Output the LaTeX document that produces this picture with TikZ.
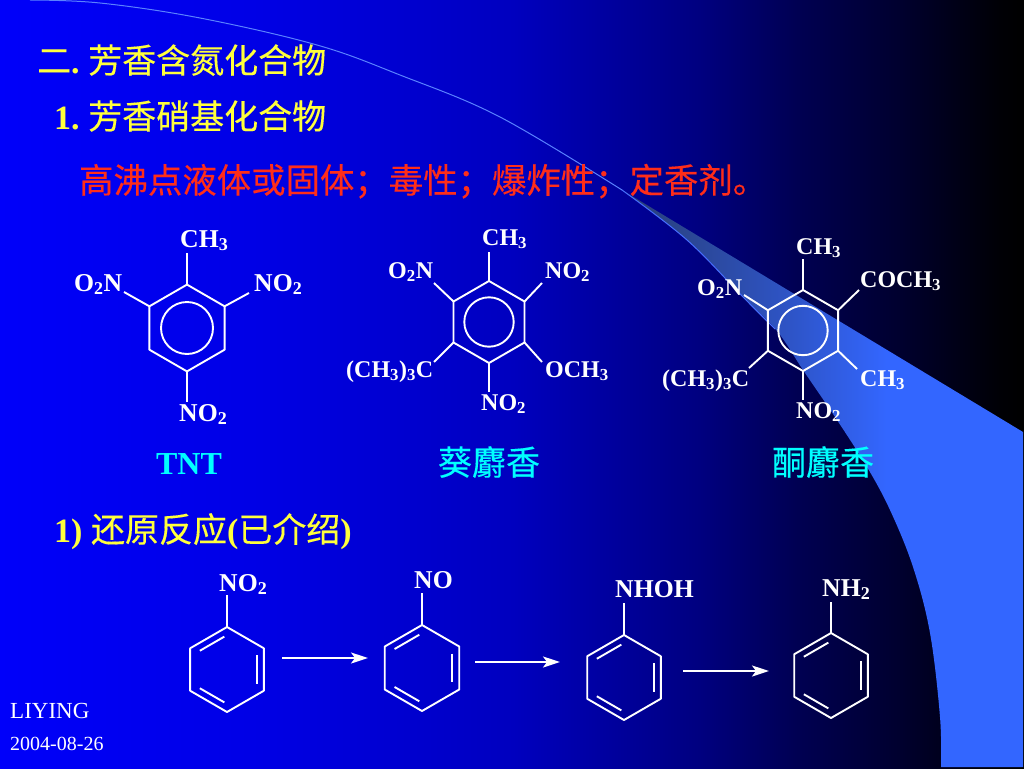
\documentclass[tikz,border=0pt]{standalone}
\usepackage{fontspec}
\setmainfont{Liberation Serif}
\newfontfamily\cjk[FakeBold=0.25]{Noto Sans CJK SC}
\usetikzlibrary{arrows.meta,calc}
\definecolor{hdr}{RGB}{255,255,60}
\definecolor{redt}{RGB}{255,45,25}
\definecolor{cyant}{RGB}{0,255,255}
\definecolor{edgeA}{RGB}{90,130,255}
\definecolor{edgeB}{RGB}{70,110,255}
\pgfdeclarehorizontalshading{slidebg}{100bp}{
 rgb(0bp)=(0,0,.98); rgb(25bp)=(0,0,.98); rgb(37.5bp)=(0,0,.9); rgb(50bp)=(0,0,.75);
 rgb(59.2bp)=(0,0,.5); rgb(64bp)=(0,0,.32); rgb(69bp)=(0,0,.18); rgb(73.8bp)=(0,0,.02); rgb(75bp)=(0,0,0); rgb(100bp)=(0,0,0)}
\pgfdeclarehorizontalshading{swoosh}{100bp}{
 rgb(0bp)=(.16,.24,.45); rgb(25bp)=(.16,.24,.45); rgb(46bp)=(.18,.33,.78);
 rgb(58bp)=(.2,.4,1); rgb(100bp)=(.2,.4,1)}
\tikzset{x=1pt,y=-1pt,
 bond/.style={draw=white,line width=1.9pt,line join=round},
 atom/.style={text=white,font=\bfseries\fontsize{25.7}{28}\selectfont,inner sep=0pt,anchor=base west},
 atoms/.style={text=white,font=\bfseries\fontsize{24}{28}\selectfont,inner sep=0pt,anchor=base west},
 head/.style={font=\cjk\fontsize{34}{38}\selectfont,inner sep=0pt,anchor=base west},
 rxn/.style={draw=white,line width=1.9pt,-{Stealth[length=17pt,width=11pt,inset=4pt]}},
 foot/.style={text=white,inner sep=0pt,anchor=base west}}
\newcommand{\ringpts}[4]{% name, cx, cy, R
 \coordinate (#1t) at (#2,#3-#4);
 \coordinate (#1tr) at (#2+.866*#4,#3-.5*#4);
 \coordinate (#1br) at (#2+.866*#4,#3+.5*#4);
 \coordinate (#1b) at (#2,#3+#4);
 \coordinate (#1bl) at (#2-.866*#4,#3+.5*#4);
 \coordinate (#1tl) at (#2-.866*#4,#3-.5*#4);
 \coordinate (#1c) at (#2,#3);
 \draw[bond] (#1t)--(#1tr)--(#1br)--(#1b)--(#1bl)--(#1tl)--cycle;}
\newcommand{\kek}[1]{%
 \foreach \p/\q in {tl/t,tr/br,b/bl}{
  \draw[bond] ($($(#1\p)!.09!(#1\q)$)!.19!(#1c)$) -- ($($(#1\q)!.09!(#1\p)$)!.19!(#1c)$);}}
\newcommand{\sbond}[4]{% ring vertex, end name, x, y
 \coordinate (#2) at (#3,#4);
 \draw[bond] (#1) -- (#2);}
\begin{document}
\begin{tikzpicture}
\useasboundingbox (0,0) rectangle (1024,768);
\shade[shading=slidebg] (0,0) rectangle (1024,768);
% swoosh
\shade[shading=swoosh] (622,190) -- (1023,432) -- (1023,767) --
  plot[smooth,tension=.6] coordinates {(941,767) (940,717) (930,633) (913,567) (890,510) (867,467) (837,420) (803,370) (777,331) (743,297) (687,240) (622,190)} -- cycle;
\draw[edgeA,line width=1pt] plot[smooth,tension=.6] coordinates {(30,0) (100,3) (200,18) (317,45) (400,75) (500,117) (622,190)};
\draw[edgeB,line width=1pt] plot[smooth,tension=.6] coordinates {(622,190) (687,240) (743,297) (775,329)};
% headings
\node[head,text=hdr] (h1) at (37,73) {二{\rmfamily\bfseries .\ }芳香含氮化合物};
\node[head,text=hdr] (h2) at (54,129) {{\rmfamily\bfseries 1.\ }芳香硝基化合物};
\node[head,text=redt,font=\cjk\fontsize{34.4}{38}\selectfont] (h3) at (79,193) {高沸点液体或固体；毒性；爆炸性；定香剂。};
% TNT
\ringpts{a}{187}{328}{43.4}
\draw[bond] (ac) circle (26);
\node[atom] (a1) at (180,247) {CH\textsubscript{3}};
\node[atom] (a2) at (74,291) {O\textsubscript{2}N};
\node[atom] (a3) at (254,291) {NO\textsubscript{2}};
\node[atom] (a4) at (179,421) {NO\textsubscript{2}};
\sbond{at}{ae1}{187}{253}
\sbond{atl}{ae2}{124}{292}
\sbond{atr}{ae3}{249}{293}
\sbond{ab}{ae4}{187}{402}
\node[text=cyant,font=\bfseries\fontsize{32}{36}\selectfont,anchor=base,inner sep=0pt] (a5) at (189,474) {TNT};
% musk 2
\ringpts{b}{489}{322}{41}
\draw[bond] (bc) circle (24.7);
\node[atoms] (b1) at (482,245) {CH\textsubscript{3}};
\node[atoms] (b2) at (388,278) {O\textsubscript{2}N};
\node[atoms] (b3) at (545,278) {NO\textsubscript{2}};
\node[atoms] (b4) at (346,377) {(CH\textsubscript{3})\textsubscript{3}C};
\node[atoms] (b5) at (545,377) {OCH\textsubscript{3}};
\node[atoms] (b6) at (481,410) {NO\textsubscript{2}};
\sbond{bt}{be1}{489}{252}
\sbond{btl}{be2}{434}{283}
\sbond{btr}{be3}{542}{283}
\sbond{bbl}{be4}{434}{362}
\sbond{bbr}{be5}{542}{362}
\sbond{bb}{be6}{489}{392}
\node[head,text=cyant,anchor=base] (b7) at (489,475) {葵麝香};
% musk 3
\ringpts{c}{803}{330.5}{40.5}
\draw[bond] (cc) circle (24.7);
\node[atoms] (c1) at (796,254) {CH\textsubscript{3}};
\node[atoms] (c2) at (697,295) {O\textsubscript{2}N};
\node[atoms] (c3) at (860,287) {COCH\textsubscript{3}};
\node[atoms] (c4) at (662,386) {(CH\textsubscript{3})\textsubscript{3}C};
\node[atoms] (c5) at (860,386) {CH\textsubscript{3}};
\node[atoms] (c6) at (796,418) {NO\textsubscript{2}};
\sbond{ct}{ce1}{803}{259}
\sbond{ctl}{ce2}{744}{295}
\sbond{ctr}{ce3}{859}{290}
\sbond{cbl}{ce4}{749}{368}
\sbond{cbr}{ce5}{857}{369}
\sbond{cb}{ce6}{803}{400}
\node[head,text=cyant,anchor=base] (c7) at (823,475) {酮麝香};
% reaction heading
\node[head,text=hdr] (h4) at (54,542) {{\rmfamily\bfseries 1)\ }还原反应{\rmfamily\bfseries (}已介绍{\rmfamily\bfseries )}};
% reaction row
\ringpts{d}{227}{669.5}{42.5} \kek{d}
\ringpts{e}{422}{668}{43} \kek{e}
\ringpts{f}{624}{677.5}{42.5} \kek{f}
\ringpts{g}{831}{675.5}{42.5} \kek{g}
\node[atom] (d1) at (219,591) {NO\textsubscript{2}};
\node[atom] (e1) at (414,588) {NO};
\node[atom] (f1) at (615,597) {NHOH};
\node[atom] (g1) at (822,596) {NH\textsubscript{2}};
\sbond{dt}{de}{227}{595}
\sbond{et}{ee}{422}{593}
\sbond{ft}{fe}{624}{603}
\sbond{gt}{ge}{831}{602}
\coordinate (r1a) at (282,658); \coordinate (r1b) at (368,658);
\coordinate (r2a) at (475,662); \coordinate (r2b) at (560,662);
\coordinate (r3a) at (683,671); \coordinate (r3b) at (769,671);
\draw[rxn] (r1a) -- (r1b);
\draw[rxn] (r2a) -- (r2b);
\draw[rxn] (r3a) -- (r3b);
% footer
\node[foot,font=\fontsize{23}{26}\selectfont] (l1) at (10,718) {LIYING};
\node[foot,font=\fontsize{20}{24}\selectfont] (l2) at (10,750) {2004-08-26};
\end{tikzpicture}
\end{document}
